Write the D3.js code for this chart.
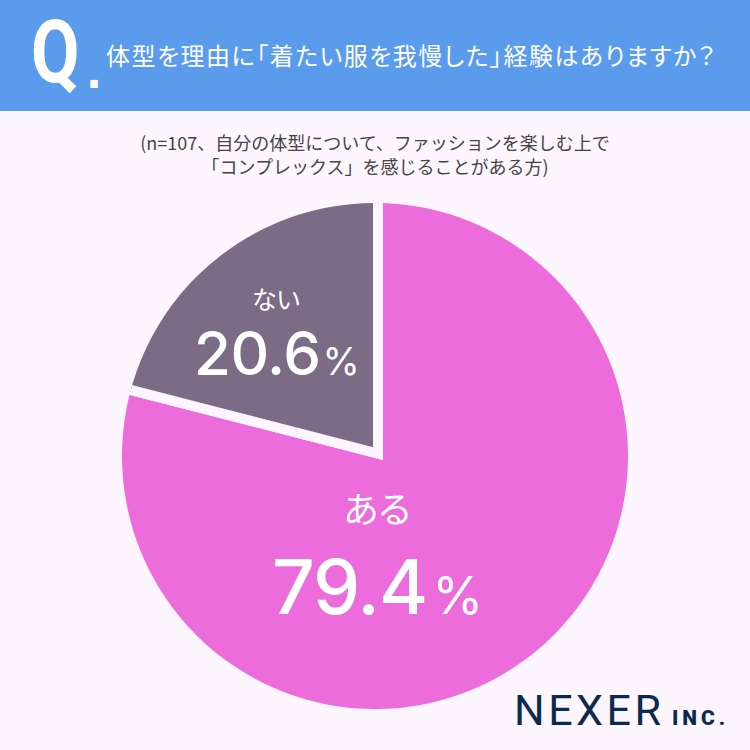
<!DOCTYPE html>
<html>
<head>
<meta charset="utf-8">
<script src="https://cdn.jsdelivr.net/npm/d3@7"></script>
<style>
  html, body { margin: 0; padding: 0; background: #fdf6ff; }
  text { font-family: "Noto Sans CJK JP", "Noto Sans", sans-serif; }
  .jp { font-feature-settings: "palt"; }
  .num { font-family: Inter, "Noto Sans", sans-serif; font-weight: 500; }
</style>
</head>
<body>
<div id="chart"></div>
<script>
const categories = ['ある', 'ない'];
const percents = [79.4, 20.6];
// slice sizes, a little off the printed labels
const sliceShares = [79, 21];
const sliceColors = ['#ec6cdc', '#7b6b85'];
const titleText = '体型を理由に「着たい服を我慢した」経験はありますか？';
const noteLines = ['(n=107、自分の体型について、ファッションを楽しむ上で', '「コンプレックス」を感じることがある方)'];

const width = 750, height = 750;
const bg = '#fdf6ff';
const cx = 375, cy = 456, radius = 253;
// the gap between slices sits a little off the circle centre
const apex = [378, 453.5];

const svg = d3.select('#chart').append('svg')
  .attr('width', width)
  .attr('height', height)
  .style('display', 'block');

svg.append('rect').attr('width', width).attr('height', 750).attr('fill', bg);

// header
svg.append('rect').attr('width', width).attr('height', 111).attr('fill', '#5a9bec');

svg.append('text')
  .attr('transform', 'translate(31,82) scale(0.8,1.0)')
  .style('font-family', 'Roboto')
  .style('font-weight', 700)
  .style('font-size', '88px')
  .attr('fill', '#fff')
  .text('Q');

svg.append('text')
  .attr('x', 86).attr('y', 88)
  .style('font-family', '"DejaVu Sans"')
  .style('font-weight', 700)
  .style('font-size', '42px')
  .attr('fill', '#fff')
  .text('.');

svg.append('text')
  .attr('class', 'jp')
  .attr('x', 106).attr('y', 65)
  .attr('textLength', 609)
  .style('font-size', '24px')
  .style('font-weight', 400)
  .attr('fill', '#fff')
  .text(titleText);

svg.selectAll('.note')
  .data(noteLines)
  .enter()
  .append('text')
    .attr('class', 'note')
    .attr('x', 375)
    .attr('y', (d, i) => 150 + i * 24)
    .attr('text-anchor', 'middle')
    .style('font-size', '18px')
    .style('font-weight', 400)
    .attr('fill', '#444')
    .text(d => d);

// pie
svg.append('clipPath').attr('id', 'disc')
  .append('circle')
    .attr('cx', cx).attr('cy', cy).attr('r', radius);

const pie = d3.pie().sort(null).value(d => d);
const arc = d3.arc().innerRadius(0).outerRadius(radius + 30);

svg.append('g')
  .attr('clip-path', 'url(#disc)')
  .append('g')
    .attr('transform', `translate(${apex[0]},${apex[1]})`)
    .selectAll('path')
    .data(pie(sliceShares))
    .enter()
    .append('path')
      .attr('d', arc)
      .attr('fill', (d, i) => sliceColors[i])
      .attr('stroke', bg)
      .attr('stroke-width', 10)
      .attr('stroke-linejoin', 'miter');

// slice labels
const labelPos = [
  { nameX: 377, nameY: 523, numX: 272, numY: 614, nameSize: 36, numSize: 75, pctSize: 52, pctGap: 5, track: -1 },
  { nameX: 276, nameY: 309, numX: 194, numY: 375, nameSize: 25, numSize: 60, pctSize: 38, pctGap: 2, track: -0.5 }
];

categories.forEach((c, i) => {
  const p = labelPos[i];
  svg.append('text')
    .attr('class', 'jp')
    .attr('x', p.nameX).attr('y', p.nameY)
    .attr('text-anchor', 'middle')
    .style('font-size', p.nameSize + 'px')
    .attr('fill', '#fff')
    .text(c);

  const t = svg.append('text')
    .attr('class', 'num')
    .attr('x', p.numX).attr('y', p.numY)
    .attr('fill', '#fff');
  t.append('tspan')
    .style('font-size', p.numSize + 'px')
    .style('letter-spacing', p.track + 'px')
    .text(percents[i].toFixed(1));
  t.append('tspan')
    .attr('dx', p.pctGap)
    .style('font-size', p.pctSize + 'px')
    .style('font-weight', 400)
    .text('%');
});

// logo
svg.append('text')
  .attr('x', 514).attr('y', 725)
  .style('font-family', 'Roboto')
  .style('font-weight', 400)
  .style('font-size', '43px')
  .style('letter-spacing', '3.5px')
  .attr('fill', '#0b2a4f')
  .text('NEXER');

svg.append('text')
  .attr('x', 672).attr('y', 725)
  .style('font-family', 'Roboto')
  .style('font-weight', 900)
  .style('font-size', '21px')
  .style('letter-spacing', '4px')
  .attr('fill', '#0b2a4f')
  .text('INC.');
</script>
</body>
</html>
